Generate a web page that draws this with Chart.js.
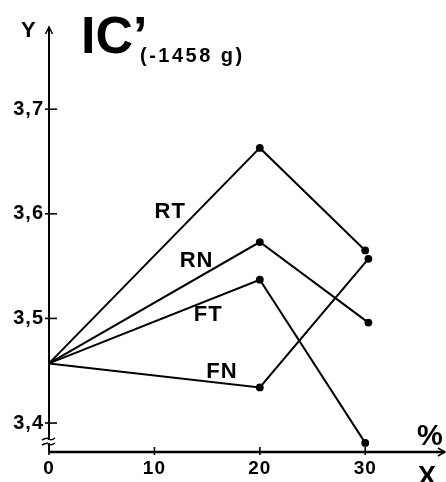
<!DOCTYPE html>
<html>
<head>
<meta charset="utf-8">
<script src="https://cdn.jsdelivr.net/npm/chart.js@4.4.1/dist/chart.umd.min.js"></script>
<style>
  html, body { margin: 0; padding: 0; background: #fff; }
  #wrap { width: 446px; height: 482px; }
</style>
</head>
<body>
<div id="wrap"><canvas id="chart" width="446" height="482"></canvas></div>
<script>
// ---------- DATA ----------
const seriesNames = ["RT", "RN", "FT", "FN"];
const rtX = [0, 20, 30];
const rtY = [3.457, 3.663, 3.565];
const rnX = [0, 20, 30.3];
const rnY = [3.457, 3.573, 3.496];
const ftX = [0, 20, 30];
const ftY = [3.457, 3.537, 3.381];
const fnX = [0, 20, 30.3];
const fnY = [3.457, 3.434, 3.557];
const xTicks = [0, 10, 20, 30];
const yTicks = [3.4, 3.5, 3.6, 3.7];

const FONT = "'Liberation Sans', Arial, sans-serif";

// where each curve name sits, in data units
const labelAt = {
  RT: [11.5, 3.602],
  RN: [14.0, 3.555],
  FT: [15.1, 3.503],
  FN: [16.4, 3.449]
};

function toPoints(xs, ys) {
  return xs.map((x, i) => ({ x: x, y: ys[i] }));
}

const seriesData = [toPoints(rtX, rtY), toPoints(rnX, rnY), toPoints(ftX, ftY), toPoints(fnX, fnY)];

// ---------- AXES + TEXT ----------
const axisPlugin = {
  id: "axisPlugin",
  beforeDraw(chart) {
    // a bit of spacing for the tick labels, like the printed figure
    chart.ctx.letterSpacing = "1px";
  },
  beforeDatasetsDraw(chart) {
    const c = chart.ctx;
    c.letterSpacing = "0px";
    const area = chart.chartArea;
    const xs = chart.scales.x, ys = chart.scales.y;
    const x0 = area.left, y0 = area.bottom;
    c.save();
    c.strokeStyle = "#000";
    c.lineCap = "butt";

    // y axis + arrow
    c.lineWidth = 2;
    c.beginPath();
    c.moveTo(x0, y0);
    c.lineTo(x0, area.top);
    c.stroke();
    c.lineWidth = 1.5;
    c.beginPath();
    c.moveTo(x0 - 3.5, area.top + 7);
    c.lineTo(x0, area.top);
    c.lineTo(x0 + 3.5, area.top + 7);
    c.stroke();

    // x axis + arrow
    c.lineWidth = 2.6;
    c.beginPath();
    c.moveTo(x0, y0);
    c.lineTo(chart.width - 1, y0);
    c.stroke();
    c.lineWidth = 1.6;
    c.beginPath();
    c.moveTo(chart.width - 8, y0 - 4);
    c.lineTo(chart.width - 1, y0);
    c.lineTo(chart.width - 8, y0 + 4);
    c.stroke();

    // tick marks
    c.lineWidth = 1.6;
    yTicks.forEach(v => {
      const py = ys.getPixelForValue(v);
      c.beginPath();
      c.moveTo(x0 - 4, py);
      c.lineTo(x0 + 8, py);
      c.stroke();
    });
    xTicks.forEach(v => {
      const px = xs.getPixelForValue(v);
      c.beginPath();
      c.moveTo(px, y0 - 5);
      c.lineTo(px, y0 + 3);
      c.stroke();
    });

    // axis break
    c.fillStyle = "#fff";
    c.fillRect(x0 - 2, y0 - 12, 4, 3);
    c.lineWidth = 1.5;
    [y0 - 13, y0 - 8].forEach(by => {
      c.beginPath();
      c.moveTo(x0 - 7, by + 1);
      c.quadraticCurveTo(x0 - 2, by - 2, x0, by);
      c.quadraticCurveTo(x0 + 2, by + 2, x0 + 6, by - 1);
      c.stroke();
    });
    c.restore();
  },
  afterDraw(chart) {
    const c = chart.ctx;
    const xs = chart.scales.x, ys = chart.scales.y;
    c.save();
    c.fillStyle = "#000";
    c.textBaseline = "alphabetic";
    c.textAlign = "left";

    c.font = "bold 22px " + FONT;
    c.fillText("Y", 21, 37);

    c.font = "bold 52px " + FONT;
    c.fillText("IC\u2019", 81, 53);

    c.font = "bold 20px " + FONT;
    c.letterSpacing = "2.5px";
    c.fillText("(-1458 g)", 140, 62);
    c.letterSpacing = "0px";

    c.font = "bold 29px " + FONT;
    c.fillText("%", 417, 445);
    c.font = "bold 27px " + FONT;
    c.fillText("X", 418, 485);

    c.font = "bold 22px " + FONT;
    c.textAlign = "center";
    c.textBaseline = "middle";
    c.letterSpacing = "1px";
    seriesNames.forEach(name => {
      const p = labelAt[name];
      c.fillText(name, xs.getPixelForValue(p[0]), ys.getPixelForValue(p[1]));
    });
    c.restore();
  }
};

// ---------- CHART ----------
new Chart(document.getElementById("chart").getContext("2d"), {
  type: "line",
  data: {
    datasets: seriesData.map((pts, i) => ({
      label: seriesNames[i],
      data: pts,
      borderColor: "#000",
      borderWidth: 2,
      backgroundColor: "#000",
      pointBackgroundColor: "#000",
      pointBorderColor: "#000",
      pointBorderWidth: 0,
      pointRadius: ctx => (ctx.raw && ctx.raw.x === 0 ? 0 : 3.9),
      tension: 0,
      fill: false,
      clip: false
    }))
  },
  options: {
    responsive: false,
    animation: false,
    events: [],
    layout: { padding: { top: 27, right: 7, left: 0, bottom: 0 } },
    plugins: { legend: { display: false }, tooltip: { enabled: false } },
    scales: {
      x: {
        type: "linear",
        min: 0,
        max: 37,
        grid: { display: false, drawTicks: false },
        border: { display: false },
        ticks: { font: { family: FONT, size: 19, weight: "bold" }, color: "#000", padding: 5, maxRotation: 0, callback: v => String(v) },
        afterBuildTicks: s => { s.ticks = xTicks.map(v => ({ value: v })); },
        afterFit: s => { s.height = 30; }
      },
      y: {
        type: "linear",
        min: 3.3723,
        max: 3.7786,
        grid: { display: false, drawTicks: false },
        border: { display: false },
        ticks: { font: { family: FONT, size: 20, weight: "bold" }, color: "#000", padding: 5, callback: v => v.toFixed(1).replace(".", ",") },
        afterBuildTicks: s => { s.ticks = yTicks.map(v => ({ value: v })); },
        afterFit: s => { s.width = 49; }
      }
    }
  },
  plugins: [axisPlugin]
});
</script>
</body>
</html>
